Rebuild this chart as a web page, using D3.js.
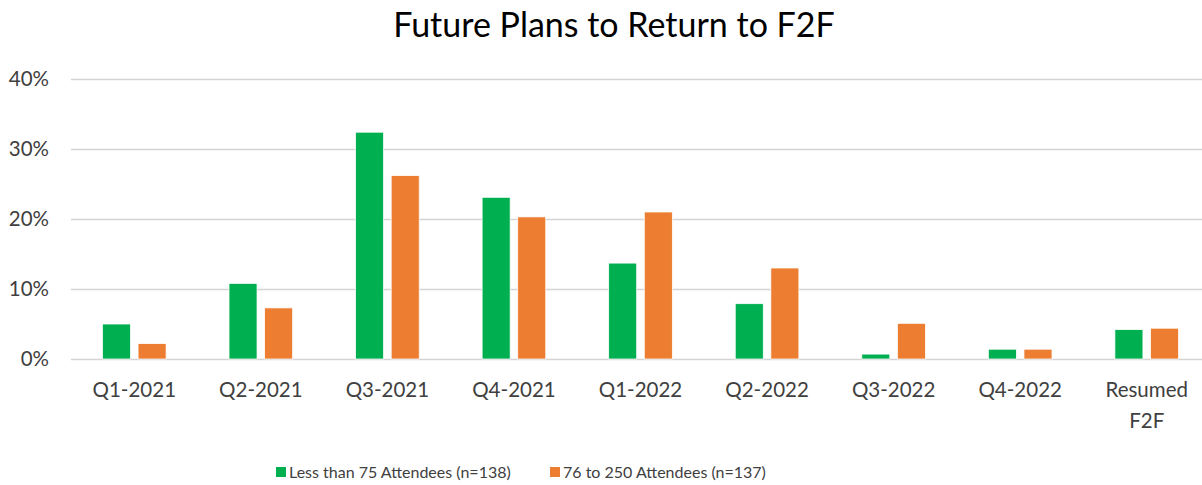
<!DOCTYPE html>
<style>
  body { margin: 0; background: #fff; }
  .chart text { font-family: Lato, "Open Sans", sans-serif; fill: #404040; }
  .chart .title { fill: #000; }
</style>
<body>
  <svg id="chart" class="chart"></svg>
</body>
<script src="https://cdnjs.cloudflare.com/ajax/libs/d3/7.8.5/d3.min.js"></script>
<script>
  const categories = ['Q1-2021', 'Q2-2021', 'Q3-2021', 'Q4-2021', 'Q1-2022', 'Q2-2022', 'Q3-2022', 'Q4-2022', 'Resumed F2F']
  const seriesNames = ['Less than 75 Attendees (n=138)', '76 to 250 Attendees (n=137)']
  const small = [5.0, 10.8, 32.4, 23.1, 13.7, 7.9, 0.7, 1.4, 4.2]
  const medium = [2.2, 7.3, 26.2, 20.3, 21.0, 13.0, 5.1, 1.4, 4.4]
  const yTicks = [0, 10, 20, 30, 40]
  const colors = ['#00b050', '#ed7d31']

  const [ width, height ] = [ 1202, 485 ]
  const values = [small, medium]

  const svg = d3.select('#chart')
      .attr('width', width)
      .attr('height', height)

  const x = d3.scaleBand()
    .domain(categories)
    .range([71, 1210])
    .paddingInner(0.497)
    .paddingOuter(0.2485)

  const xs = d3.scaleBand()
    .domain(d3.range(seriesNames.length))
    .range([0, x.bandwidth()])
    .paddingInner(0.213)

  const y = d3.scaleLinear()
    .domain([0, 40])
    .range([359, 79])

  // title
  svg.append('text')
      .attr('class', 'title')
      .attr('x', 614)
      .attr('y', 25)
      .attr('dy', '.35em')
      .attr('text-anchor', 'middle')
      .style('font-size', '34px')
      .text('Future Plans to Return to F2F')

  // gridlines
  const yAxis = svg.append('g')
      .attr('transform', 'translate(71,0)')
      .call(d3.axisLeft(y).tickValues(yTicks).tickSize(-1139).tickFormat(d => d + '%'))
  yAxis.select('.domain').remove()
  yAxis.selectAll('line').attr('stroke', '#d4d4d4').attr('stroke-width', 1.5)
  yAxis.selectAll('text')
      .attr('x', -22)
      .style('font-size', '20.5px')

  // bars
  const group = svg.selectAll('g.cat')
      .data(categories)
    .enter().append('g')
      .attr('class', 'cat')
      .attr('transform', d => `translate(${x(d)},0)`)

  group.selectAll('rect')
      .data((d, i) => values.map((v, s) => ({ s, v: v[i] })))
    .enter().append('rect')
      .attr('x', d => xs(d.s))
      .attr('width', xs.bandwidth())
      .attr('y', d => y(d.v))
      .attr('height', d => y(0) - y(d.v))
      .attr('fill', d => colors[d.s])
      .attr('stroke', '#fff')
      .attr('stroke-width', 0.75)

  // category labels
  const xAxis = svg.append('g')
      .attr('transform', `translate(0,${y(0)})`)
      .call(d3.axisBottom(x).tickSize(0).tickPadding(0))
  xAxis.select('.domain').remove()
  xAxis.selectAll('text').remove()
  xAxis.selectAll('.tick').each(function (d) {
    const words = d === 'Resumed F2F' ? ['Resumed', 'F2F'] : [d]
    const t = d3.select(this).append('text')
        .attr('text-anchor', 'middle')
        .style('font-size', '20.5px')
    words.forEach((w, i) => {
      t.append('tspan')
          .attr('x', 0)
          .attr('y', 31 + i * 31)
          .attr('dy', '.35em')
          .text(w)
    })
  })

  // legend
  const legendX = [276, 550]
  const legend = svg.selectAll('g.legend')
      .data(seriesNames)
    .enter().append('g')
      .attr('class', 'legend')
      .attr('transform', (d, i) => `translate(${legendX[i]},472)`)
  legend.append('rect')
      .attr('x', 0)
      .attr('y', -5)
      .attr('width', 10)
      .attr('height', 10)
      .attr('fill', (d, i) => colors[i])
  legend.append('text')
      .attr('x', 13)
      .attr('dy', '.35em')
      .style('font-size', '16px')
      .text(d => d)
</script>
